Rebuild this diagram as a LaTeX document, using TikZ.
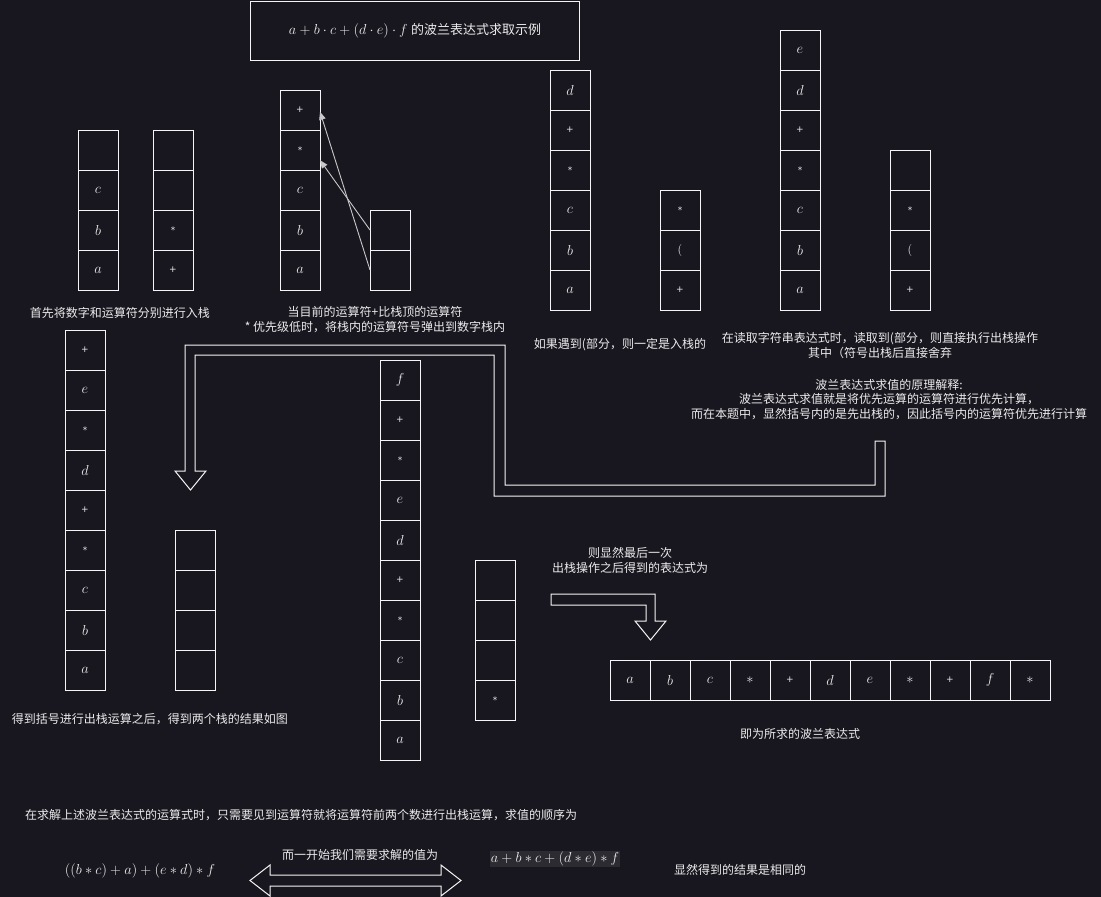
\documentclass[tikz,border=0pt]{standalone}
\usepackage{fontspec}
\newfontfamily\cjk{Noto Sans CJK SC}
\newfontfamily\symf{DejaVu Sans}
\usetikzlibrary{arrows.meta,calc}
\definecolor{bgcol}{RGB}{24,23,31}
\definecolor{linecol}{RGB}{245,245,245}
\definecolor{txtcol}{RGB}{235,235,235}
\definecolor{arrcol}{RGB}{200,200,200}
\definecolor{hlcol}{RGB}{44,43,50}
\newcommand\cpl{{\symf\fontsize{9}{9}\selectfont +}}
\newcommand\cst{{\symf\fontsize{9}{9}\selectfont *}}
\newcommand\clp{{\fontsize{13}{13}\selectfont $($}}
\newcommand\mkstack[4]{%
  \foreach \v [count=\i] in {#4} {
    \node[cell] (#1-\i) at ({#2+20},{#3+20+40*(\i-1)}) {\v};
  }}
\tikzset{
  cell/.style={draw=linecol, line width=1pt, minimum width=40pt, minimum height=40pt,
    inner sep=0pt, outer sep=0pt, text=txtcol, font=\fontsize{13.5}{15}\selectfont},
  txt/.style={text=txtcol, font=\cjk\fontsize{12}{14.5}\selectfont, align=center, inner sep=0pt},
  mth/.style={text=txtcol, font=\fontsize{14.4}{16}\selectfont, inner sep=0pt},
  ptr/.style={draw=arrcol, line width=0.9pt, -{Triangle[length=8pt,width=6.5pt,fill=arrcol]}},
  bigarrow/.style={draw=linecol, line width=1pt, line join=miter},
}
\begin{document}
\begin{tikzpicture}[x=1pt,y=-1pt]
\fill[bgcol] (0,0) rectangle (1101,897);
\useasboundingbox (0,0) rectangle (1101,897);

% title
\node[draw=linecol, line width=1pt, minimum width=329pt, minimum height=59pt, inner sep=0pt,
  text=txtcol] (title) at (415,30.5)
  {{\fontsize{15}{17}\selectfont$a+b\cdot c+(d\cdot e)\cdot f$} {\cjk\fontsize{13}{15}\selectfont 的波兰表达式求取示例}};

% stacks
\mkstack{s1}{78}{130}{{},$c$,$b$,$a$}
\mkstack{s2}{153}{130}{{},{},\cst,\cpl}
\mkstack{s3}{280}{90}{\cpl,\cst,$c$,$b$,$a$}
\mkstack{s4}{370}{210}{{},{}}
\mkstack{s5}{550}{70}{$d$,\cpl,\cst,$c$,$b$,$a$}
\mkstack{s6}{660}{190}{\cst,\clp,\cpl}
\mkstack{s7}{780}{30}{$e$,$d$,\cpl,\cst,$c$,$b$,$a$}
\mkstack{s8}{890}{150}{{},\cst,\clp,\cpl}
\mkstack{s9}{65}{330}{\cpl,$e$,\cst,$d$,\cpl,\cst,$c$,$b$,$a$}
\mkstack{s10}{175}{530}{{},{},{},{}}
\mkstack{s11}{380}{360}{$f$,\cpl,\cst,$e$,$d$,\cpl,\cst,$c$,$b$,$a$}
\mkstack{s12}{475}{560}{{},{},{},\cst}

% result row
\foreach \v [count=\i] in {$a$,$b$,$c$,$\ast$,\cpl,$d$,$e$,$\ast$,\cpl,$f$,$\ast$} {
  \node[cell] (r-\i) at ({610+20+40*(\i-1)},680) {\v};
}

% pointer arrows
\draw[ptr] (s4-2.west) -- (s3-1.-5);
\draw[ptr] (s4-1.west) -- (s3-2.-27);

% captions
\node[txt] (t1) at (120,313) {首先将数字和运算符分别进行入栈};
\node[txt] (t2) at (375,319.5) {当目前的运算符+比栈顶的运算符\\* 优先级低时，将栈内的运算符号弹出到数字栈内};
\node[txt] (t3) at (620,345) {如果遇到(部分，则一定是入栈的};
\node[txt] (t4) at (880,345.5) {在读取字符串表达式时，读取到(部分，则直接执行出栈操作\\其中（符号出栈后直接舍弃};
\node[txt] (t5) at (889,399.5) {波兰表达式求值的原理解释:\\波兰表达式求值就是将优先运算的运算符进行优先计算，\\而在本题中，显然括号内的是先出栈的，因此括号内的运算符优先进行计算};
\node[txt] (t6) at (150,719) {得到括号进行出栈运算之后，得到两个栈的结果如图};
\node[txt] (t7) at (630,560.5) {则显然最后一次\\出栈操作之后得到的表达式为};
\node[txt] (t8) at (800,734) {即为所求的波兰表达式};
\node[txt] (t9) at (301,815) {在求解上述波兰表达式的运算式时，只需要见到运算符就将运算符前两个数进行出栈运算，求值的顺序为};
\node[txt] (t10) at (360,855) {而一开始我们需要求解的值为};
\node[txt] (t11) at (740,870) {显然得到的结果是相同的};
\node[mth] (m1) at (140,871) {$((b\ast c)+a)+(e\ast d)\ast f$};
\node[mth, fill=hlcol, inner sep=1pt] (m2) at (555,859) {$a+b\ast c+(d\ast e)\ast f$};

% big bent arrow
\draw[bigarrow] (875,441) -- (875,485) -- (505,485) -- (505,345) -- (185,345) -- (185,471)
  -- (175,471) -- (190.5,490) -- (206,471) -- (195,471) -- (195,355) -- (494,355)
  -- (494,496) -- (885,496) -- (885,441) -- cycle;

% small bent arrow
\draw[bigarrow] (551,594) -- (655,594) -- (655,621) -- (666,621) -- (650.5,640)
  -- (635,621) -- (646,621) -- (646,605) -- (551,605) -- cycle;

% double arrow
\draw[bigarrow] (250,880.5) -- (270,865) -- (270,875) -- (441,875) -- (441,865)
  -- (461,880.5) -- (441,896) -- (441,886) -- (270,886) -- (270,896) -- cycle;
\end{tikzpicture}
\end{document}
